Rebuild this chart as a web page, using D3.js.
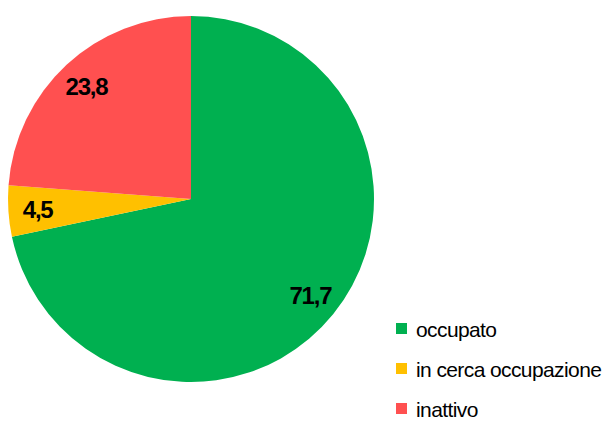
<!DOCTYPE html>
<html>
<head>
<meta charset="utf-8">
<script src="https://cdn.jsdelivr.net/npm/d3@7"></script>
<style>
  body { margin: 0; background: #fff; }
  svg { display: block; }
</style>
</head>
<body>
<svg id="chart" width="607" height="421"></svg>
<script>
const categories = ['occupato', 'in cerca occupazione', 'inattivo']
const values = [71.7, 4.5, 23.8]
const colors = ['#00b050', '#ffc000', '#ff5050']

const svg = d3.select('#chart')
const cx = 191
const cy = 199
const radius = 183

const data = categories.map((c, i) => ({ name: c, value: values[i], color: colors[i] }))

const pie = d3.pie()
  .value(d => d.value)
  .sort(null)

const arc = d3.arc()
  .innerRadius(0)
  .outerRadius(radius)

// labels sit at ~84% of the radius
const labelArc = d3.arc()
  .innerRadius(radius * 0.84)
  .outerRadius(radius * 0.84)

const g = svg.append('g')
  .attr('transform', `translate(${cx},${cy})`)

const slices = pie(data)

g.selectAll('path').data(slices)
  .enter().append('path')
  .attr('d', arc)
  .attr('fill', d => d.data.color)

g.selectAll('text').data(slices)
  .enter().append('text')
  .attr('transform', d => `translate(${labelArc.centroid(d)})`)
  .attr('text-anchor', 'middle')
  .attr('dominant-baseline', 'central')
  .attr('font-family', 'Liberation Sans, Arial, sans-serif')
  .attr('font-weight', 'bold')
  .attr('font-size', 24)
  .attr('letter-spacing', -1.2)
  .attr('fill', '#000')
  .text(d => String(d.data.value).replace('.', ','))

// Legend
const legend = svg.append('g')
  .attr('transform', 'translate(396,323)')

const item = legend.selectAll('g').data(data)
  .enter().append('g')
  .attr('transform', (d, i) => `translate(0,${i * 40})`)

item.append('rect')
  .attr('width', 11)
  .attr('height', 11)
  .attr('fill', d => d.color)

item.append('text')
  .attr('x', 20)
  .attr('y', 13.5)
  .attr('font-family', 'Liberation Sans, Arial, sans-serif')
  .attr('font-size', 21)
  .attr('letter-spacing', -0.6)
  .attr('fill', '#000')
  .text(d => d.name)
</script>
</body>
</html>
